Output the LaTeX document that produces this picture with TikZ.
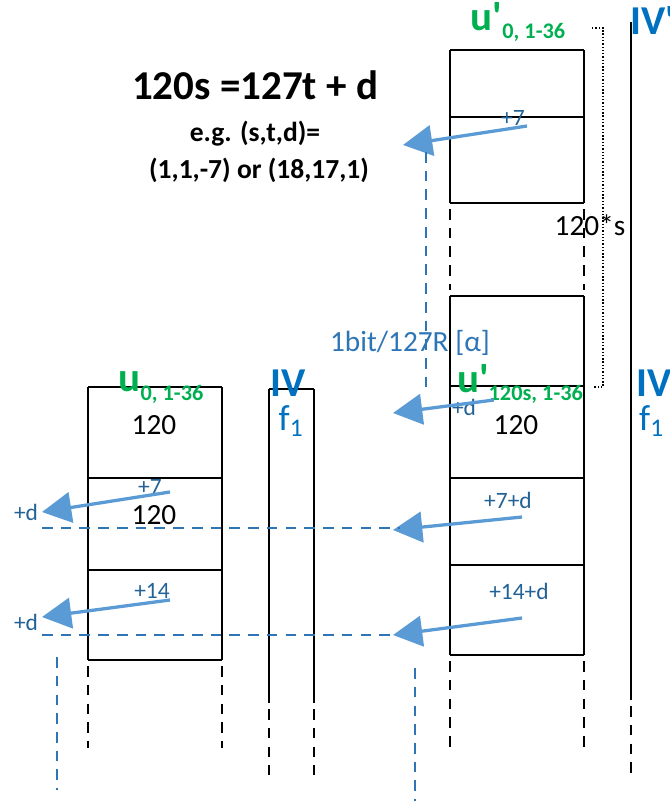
\documentclass[tikz,border=0pt]{standalone}
\usepackage{fontspec}
\setmainfont{Carlito}
\usetikzlibrary{arrows.meta,positioning}
\definecolor{slotgreen}{RGB}{0,176,80}
\definecolor{ivblue}{RGB}{0,112,192}
\definecolor{arrowblue}{RGB}{91,155,213}
\definecolor{shiftblue}{RGB}{34,98,150}
\definecolor{guideblue}{RGB}{46,117,182}
\newcommand{\slotname}[2]{#1\raisebox{-0.45ex}{\fontsize{19}{19}\selectfont #2}}
\tikzset{
frameline/.style={
  draw=black,
  line width=2.5pt
},
contline/.style={
  frameline,
  dash pattern=on 9pt off 7pt
},
guideline/.style={
  draw=guideblue,
  line width=2.3pt,
  dash pattern=on 9pt off 7pt
},
bracketline/.style={
  draw=black,
  line width=1.6pt,
  dash pattern=on 1.2pt off 1.6pt
},
shiftarrow/.style={
  -{Triangle[length=25pt,width=26pt]},
  line width=2.8pt,
  draw=arrowblue
},
numtext/.style={
  font=\fontsize{25}{27}\selectfont,
  text=black,
  inner sep=0pt
},
shifttext/.style={
  font=\fontsize{20}{22}\selectfont,
  text=shiftblue,
  inner sep=0pt
},
slottext/.style={
  font=\fontsize{35}{35}\selectfont\bfseries,
  text=slotgreen,
  inner sep=0pt
},
ivtext/.style={
  font=\fontsize{35}{35}\selectfont\bfseries,
  text=ivblue,
  inner sep=0pt
},
freqtext/.style={
  font=\fontsize{31}{31}\selectfont,
  text=ivblue,
  inner sep=0pt
},
eqtext/.style={
  font=\bfseries,
  text=black,
  align=center,
  inner sep=0pt
}
}
\begin{document}
\begin{tikzpicture}[x=0.03cm,y=-0.03cm]
  \useasboundingbox (0,0) rectangle (670,801);

  % left slot column
  \foreach \y in {387,478,570,660}
    \draw[frameline] (88,\y) -- (222,\y);
  \draw[frameline] (88,387) -- (88,660) (222,387) -- (222,660);
  \draw[contline] (88,666) -- (88,748) (222,666) -- (222,748);

  % left IV column
  \draw[frameline] (269,389) -- (314,389);
  \draw[frameline] (269,389) -- (269,703) (314,389) -- (314,703);
  \draw[contline] (269,709) -- (269,775) (314,709) -- (314,775);

  % right slot column
  \foreach \y in {50,117,203,296,386,478,565,655}
    \draw[frameline] (450,\y) -- (584,\y);
  \draw[frameline] (450,50) -- (450,203) (584,50) -- (584,203);
  \draw[contline] (450,209) -- (450,290) (584,209) -- (584,290);
  \draw[frameline] (450,296) -- (450,655) (584,296) -- (584,655);
  \draw[contline] (450,661) -- (450,748) (584,661) -- (584,748);

  % right IV column
  \draw[frameline] (631,22) -- (631,700);
  \draw[contline] (631,706) -- (631,775);

  % 120*s bracket
  \coordinate (brtop) at (592,28);
  \coordinate (brbot) at (594,387);
  \draw[bracketline] (brtop) -- (603,28) -- (603,387) -- (brbot);
  \node[numtext] (spanlbl) at (590,225) {120*s};

  % equation
  \node[eqtext, font=\fontsize{35}{37}\selectfont\bfseries] (eqmain) at (255,85) {120s =127t + d};
  \node[eqtext, font=\fontsize{23.5}{25}\selectfont\bfseries] (eqeg) at (255,134) {e.g. (s,t,d)=};
  \node[eqtext, font=\fontsize{23.5}{25}\selectfont\bfseries] (eqcases) at (259,170) {(1,1,-7) or (18,17,1)};

  % slot names
  \node[slottext] (lslot) at (161,388) {\slotname{u}{0, 1-36}};
  \node[slottext] (rslottop) at (518,22) {\slotname{u\textquotesingle}{0, 1-36}};
  \node[slottext] (rslotlow) at (520,384) {\slotname{u\textquotesingle}{120s, 1-36}};

  % IV labels
  \node[ivtext] (livlbl) at (288,383) {IV};
  \node[freqtext] (lfreq) at (291,421) {f\textsubscript{1}};
  \node[ivtext, anchor=west] (rivtop) at (630,20) {IV\textquotesingle};
  \node[ivtext, anchor=west] (rivlow) at (636,383) {IV};
  \node[freqtext, anchor=west] (rfreq) at (639,421) {f\textsubscript{1}};

  % block contents
  \node[numtext] (lnum1) at (154,425) {120};
  \node[numtext] (lnum2) at (154,515) {120};
  \node[numtext] (rnum1) at (516,425) {120};
  \node[shifttext] (ls7) at (150,487) {+7};
  \node[shifttext] (ls14) at (152,591) {+14};
  \node[shifttext] (rs7top) at (513,118) {+7};
  \node[shifttext] (rsd) at (464,407) {+d};
  \node[shifttext] (rs7d) at (508,500) {+7+d};
  \node[shifttext] (rs14d) at (519,591) {+14+d};
  \node[shifttext] (ld1) at (26,512) {+d};
  \node[shifttext] (ld2) at (26,622) {+d};
  \node[font=\fontsize{25}{27}\selectfont, text=guideblue, inner sep=0pt] (ratelbl) at (410,343) {1bit/127R [α]};

  % shift arrows
  \coordinate (a1s) at (527,126);  \coordinate (a1e) at (403,145);
  \coordinate (a2s) at (494,400);  \coordinate (a2e) at (393,413);
  \coordinate (a3s) at (170,492);  \coordinate (a3e) at (42,512);
  \coordinate (a4s) at (170,600);  \coordinate (a4e) at (42,617);
  \coordinate (a5s) at (522,517);  \coordinate (a5e) at (393,530);
  \coordinate (a6s) at (522,618);  \coordinate (a6e) at (393,635);
  \foreach \n in {1,...,6}
    \draw[shiftarrow] (a\n s) -- (a\n e);

  % guide lines
  \coordinate (g1) at (42,528);
  \coordinate (g2) at (42,635);
  \draw[guideline] (g1) -- (400,528);
  \draw[guideline] (g2) -- (a6e);
  \coordinate (v1a) at (57,657);  \coordinate (v1b) at (57,790);
  \coordinate (v2a) at (415,668); \coordinate (v2b) at (415,801);
  \coordinate (v3a) at (426,152); \coordinate (v3b) at (426,392);
  \draw[guideline] (v1a) -- (v1b);
  \draw[guideline] (v2a) -- (v2b);
  \draw[guideline] (v3a) -- (v3b);
\end{tikzpicture}
\end{document}
